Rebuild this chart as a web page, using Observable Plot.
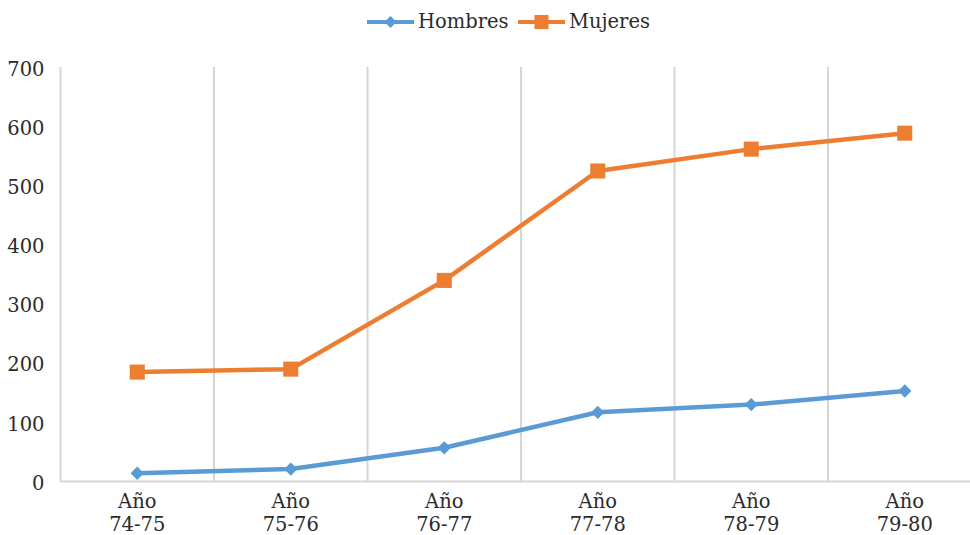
<!DOCTYPE html>
<html>
<head>
<meta charset="utf-8">
<script src="https://cdn.jsdelivr.net/npm/d3@7"></script>
<script src="https://cdn.jsdelivr.net/npm/@observablehq/plot@0.6"></script>
<style>
  body { margin: 0; background: #fff; font-family: "DejaVu Serif", serif; color: #2b2b2b; }
  #legend { position: relative; height: 44px; width: 970px; }
  .item { position: absolute; top: 10px; display: flex; align-items: center; font-size: 19.5px; line-height: 24px; }
  .item svg { display: block; margin-right: 4px; }
  #chart svg { display: block; overflow: visible; }
</style>
</head>
<body>
<div id="legend"></div>
<div id="chart"></div>
<script>
// School years on the horizontal axis
const years = ["74-75", "75-76", "76-77", "77-78", "78-79", "79-80"];
// Counts per year
const hombres = [14, 21, 57, 117, 130, 153];
const mujeres = [185, 190, 340, 525, 562, 589];
// Value axis ticks
const yTicks = [0, 100, 200, 300, 400, 500, 600, 700];
const seriesNames = ["Hombres", "Mujeres"];

// Presentation
const colors = {Hombres: "#5B9BD5", Mujeres: "#ED7D31"};
const symbols = {Hombres: "diamond2", Mujeres: "square"};
const radius = {Hombres: 6, Mujeres: 8.5};
const gridColor = "#d6d6d6";
const textColor = "#2b2b2b";
const fontSize = 19.5;

const rows = years.flatMap((year, i) => [
  {i, year, serie: "Hombres", value: hombres[i]},
  {i, year, serie: "Mujeres", value: mujeres[i]}
]);
const bounds = d3.range(-0.5, years.length, 1); // category boundaries

const chart = Plot.plot({
  width: 970,
  height: 491,
  marginTop: 23,
  marginBottom: 54,
  marginLeft: 60,
  marginRight: -11,
  style: {fontFamily: "'DejaVu Serif', serif", fontSize: fontSize + "px", color: textColor, background: "#fff"},
  x: {domain: [-0.5, years.length - 0.5], axis: null},
  y: {domain: [0, 700], ticks: yTicks, tickSize: 0, tickPadding: 16, label: null},
  color: {domain: seriesNames, range: seriesNames.map(s => colors[s])},
  marks: [
    Plot.ruleX(bounds, {x: d => d, y1: 0, y2: 700, stroke: gridColor, strokeWidth: 2}),
    Plot.ruleY([0], {stroke: gridColor, strokeWidth: 2}),
    Plot.axisY({ticks: yTicks, tickSize: 0, tickPadding: 16, label: null, dy: 2, fontSize, fill: textColor}),
    Plot.text(years, {
      x: (d, i) => i, y: 0, text: d => "Año\n" + d,
      lineAnchor: "top", lineHeight: 1.15, dy: 11, fontSize, fill: textColor
    }),
    Plot.line(rows, {x: "i", y: "value", z: "serie", stroke: "serie", strokeWidth: 4.5, strokeLinejoin: "round", strokeLinecap: "round"}),
    ...seriesNames.map(s => Plot.dot(rows.filter(d => d.serie === s), {
      x: "i", y: "value", symbol: symbols[s], r: radius[s], fill: colors[s], stroke: "none"
    }))
  ]
});
document.getElementById("chart").append(chart);

// Legend above the plot
const legend = d3.select("#legend");
const lefts = {Hombres: 367, Mujeres: 518};
for (const s of seriesNames) {
  const item = legend.append("div").attr("class", "item").style("left", lefts[s] + "px");
  const svg = item.append("svg").attr("width", 47).attr("height", 20);
  svg.append("line").attr("x1", 0).attr("x2", 47).attr("y1", 10).attr("y2", 10)
    .attr("stroke", colors[s]).attr("stroke-width", 4);
  if (s === "Hombres") {
    svg.append("path").attr("d", "M23.5,4 L29.5,10 L23.5,16 L17.5,10 Z").attr("fill", colors[s]);
  } else {
    svg.append("rect").attr("x", 16.5).attr("y", 3).attr("width", 14).attr("height", 14).attr("fill", colors[s]);
  }
  item.append("span").text(s);
}
</script>
</body>
</html>
